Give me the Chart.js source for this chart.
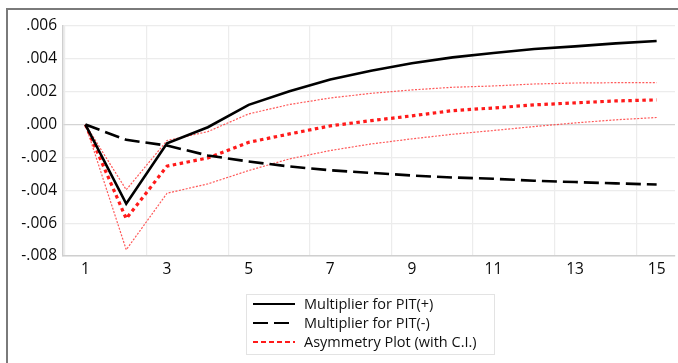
<!DOCTYPE html>
<html>
<head>
<meta charset="utf-8">
<script src="https://cdn.jsdelivr.net/npm/chart.js@4.4.1/dist/chart.umd.min.js"></script>
<style>
  html, body { margin: 0; padding: 0; background: #fff; }
  #wrap { width: 678px; height: 363px; position: relative; }
</style>
</head>
<body>
<div id="wrap"><canvas id="myLineChart" width="678" height="363"></canvas></div>
<script>
const periods = [1,2,3,4,5,6,7,8,9,10,11,12,13,14,15];
const pitPositive = [0, -0.00482, -0.00114, -0.00016, 0.0012, 0.00203, 0.00274, 0.00328, 0.00373, 0.00409, 0.00436, 0.0046, 0.00476, 0.00494, 0.00509];
const pitNegative = [0, -0.00093, -0.00128, -0.00188, -0.00225, -0.00255, -0.00278, -0.00294, -0.0031, -0.00322, -0.0033, -0.00342, -0.0035, -0.00358, -0.00365];
const asymmetry = [0, -0.00573, -0.00253, -0.00203, -0.00108, -0.00057, -0.00008, 0.00024, 0.00053, 0.00085, 0.00101, 0.0012, 0.00132, 0.00144, 0.0015];
const upperCI = [0, -0.00397, -0.00097, -0.00043, 0.00065, 0.00122, 0.00162, 0.0019, 0.00211, 0.00227, 0.00235, 0.00247, 0.00253, 0.00255, 0.00255];
const lowerCI = [0, -0.00762, -0.00418, -0.00361, -0.0028, -0.00209, -0.00158, -0.00118, -0.00087, -0.00059, -0.00036, -0.00012, 0.0001, 0.00029, 0.00043];
const xTickLabels = [1,3,5,7,9,11,13,15];
const yTickValues = [-0.008,-0.006,-0.004,-0.002,0,0.002,0.004,0.006];

const toPoints = (arr) => periods.map((p, i) => ({x: p, y: arr[i]}));
const fontFamily = "'Open Sans', 'Noto Sans', sans-serif";

const loadChart = () => {
    const ctx = document.getElementById('myLineChart').getContext('2d');

    const data = {
        datasets: [
            {
                label: 'Multiplier for PIT(+)',
                data: toPoints(pitPositive),
                borderColor: '#000000',
                borderWidth: 2.6,
                inLegend: true
            },
            {
                label: 'Multiplier for PIT(-)',
                data: toPoints(pitNegative),
                borderColor: '#000000',
                borderWidth: 2.6,
                borderDash: [15, 6],
                inLegend: true
            },
            {
                label: 'Asymmetry Plot (with C.I.)',
                data: toPoints(asymmetry),
                borderColor: '#ff1a1a',
                borderWidth: 3.2,
                borderDash: [3.5, 3.5],
                inLegend: true,
                legendDash: [5, 3],
                legendWidth: 2
            },
            {
                label: 'Upper',
                data: toPoints(upperCI),
                borderColor: 'rgba(255,60,60,0.85)',
                borderWidth: 1.2,
                borderDash: [2, 1.5]
            },
            {
                label: 'Lower',
                data: toPoints(lowerCI),
                borderColor: 'rgba(255,60,60,0.85)',
                borderWidth: 1.2,
                borderDash: [2, 1.5]
            }
        ]
    };

    // frame round the chart and a white background
    const framePlugin = {
        id: 'frame',
        beforeDraw(chart) {
            const c = chart.ctx;
            c.save();
            c.fillStyle = '#ffffff';
            c.fillRect(0, 0, chart.width, chart.height);
            c.strokeStyle = '#7a7a7a';
            c.lineWidth = 2;
            c.beginPath();
            c.moveTo(7, chart.height);
            c.lineTo(7, 9);
            c.lineTo(chart.width, 9);
            c.stroke();
            c.restore();
        }
    };

    // boxed legend below the x axis
    const legendPlugin = {
        id: 'boxLegend',
        afterDraw(chart) {
            const c = chart.ctx;
            const items = chart.data.datasets.filter(d => d.inLegend);
            const boxX = 246, boxY = 294, boxW = 248, boxH = 60;
            c.save();
            c.strokeStyle = '#e3e3e3';
            c.lineWidth = 1;
            c.strokeRect(boxX + 0.5, boxY + 0.5, boxW, boxH);
            c.font = '14.5px ' + fontFamily;
            c.textBaseline = 'middle';
            c.fillStyle = '#111111';
            items.forEach((d, i) => {
                const y = 304 + i * 19;
                c.beginPath();
                c.strokeStyle = d.borderColor;
                c.lineWidth = d.legendWidth || 2.2;
                c.setLineDash(d.legendDash || d.borderDash || []);
                c.moveTo(253, y);
                c.lineTo(295, y);
                c.stroke();
                c.setLineDash([]);
                c.fillText(d.label, 304, y + 1);
            });
            c.restore();
        }
    };

    const config = {
        type: 'line',
        data: data,
        options: {
            responsive: false,
            animation: false,
            devicePixelRatio: 1,
            layout: { padding: { top: 26, right: 3, left: 0, bottom: 0 } },
            elements: {
                point: { radius: 0 },
                line: { tension: 0, fill: false }
            },
            plugins: {
                legend: { display: false },
                tooltip: { enabled: false }
            },
            scales: {
                x: {
                    type: 'linear',
                    min: 0.45,
                    max: 15.45,
                    afterBuildTicks: (scale) => {
                        const ticks = [];
                        for (let k = 0; k < xTickLabels.length; k++) {
                            ticks.push({value: xTickLabels[k] - 0.5});
                            ticks.push({value: xTickLabels[k]});
                        }
                        scale.ticks = ticks;
                    },
                    afterFit: (scale) => { scale.height = 107; },
                    border: { display: true, color: '#cfcfcf', width: 1.5 },
                    grid: {
                        color: (c) => (c.tick && Number.isInteger(c.tick.value)) ? 'rgba(0,0,0,0)' : '#ececec',
                        lineWidth: 1.2,
                        drawTicks: false
                    },
                    ticks: {
                        autoSkip: false,
                        maxRotation: 0,
                        padding: 4,
                        color: '#0a0a0a',
                        font: { family: fontFamily, size: 15.5 },
                        callback: (v) => Number.isInteger(v) ? String(v) : ''
                    }
                },
                y: {
                    min: -0.008,
                    max: 0.006,
                    afterBuildTicks: (scale) => {
                        scale.ticks = yTickValues.map(v => ({value: v}));
                    },
                    afterFit: (scale) => { scale.width = 63; },
                    border: { display: true, color: '#cfcfcf', width: 1.5 },
                    grid: {
                        color: (c) => (c.tick && Math.abs(c.tick.value) < 1e-9) ? '#d4d4d4' : '#ececec',
                        lineWidth: 1.2,
                        drawTicks: false
                    },
                    ticks: {
                        padding: 6,
                        color: '#0a0a0a',
                        font: { family: fontFamily, size: 15.5 },
                        callback: (v) => {
                            const s = Math.abs(v).toFixed(3).replace(/^0/, '');
                            return (v < -1e-9 ? '-' : '') + s;
                        }
                    }
                }
            }
        },
        plugins: [framePlugin, legendPlugin]
    };

    const myLineChart = new Chart(ctx, config);
};

loadChart();
</script>
</body>
</html>
